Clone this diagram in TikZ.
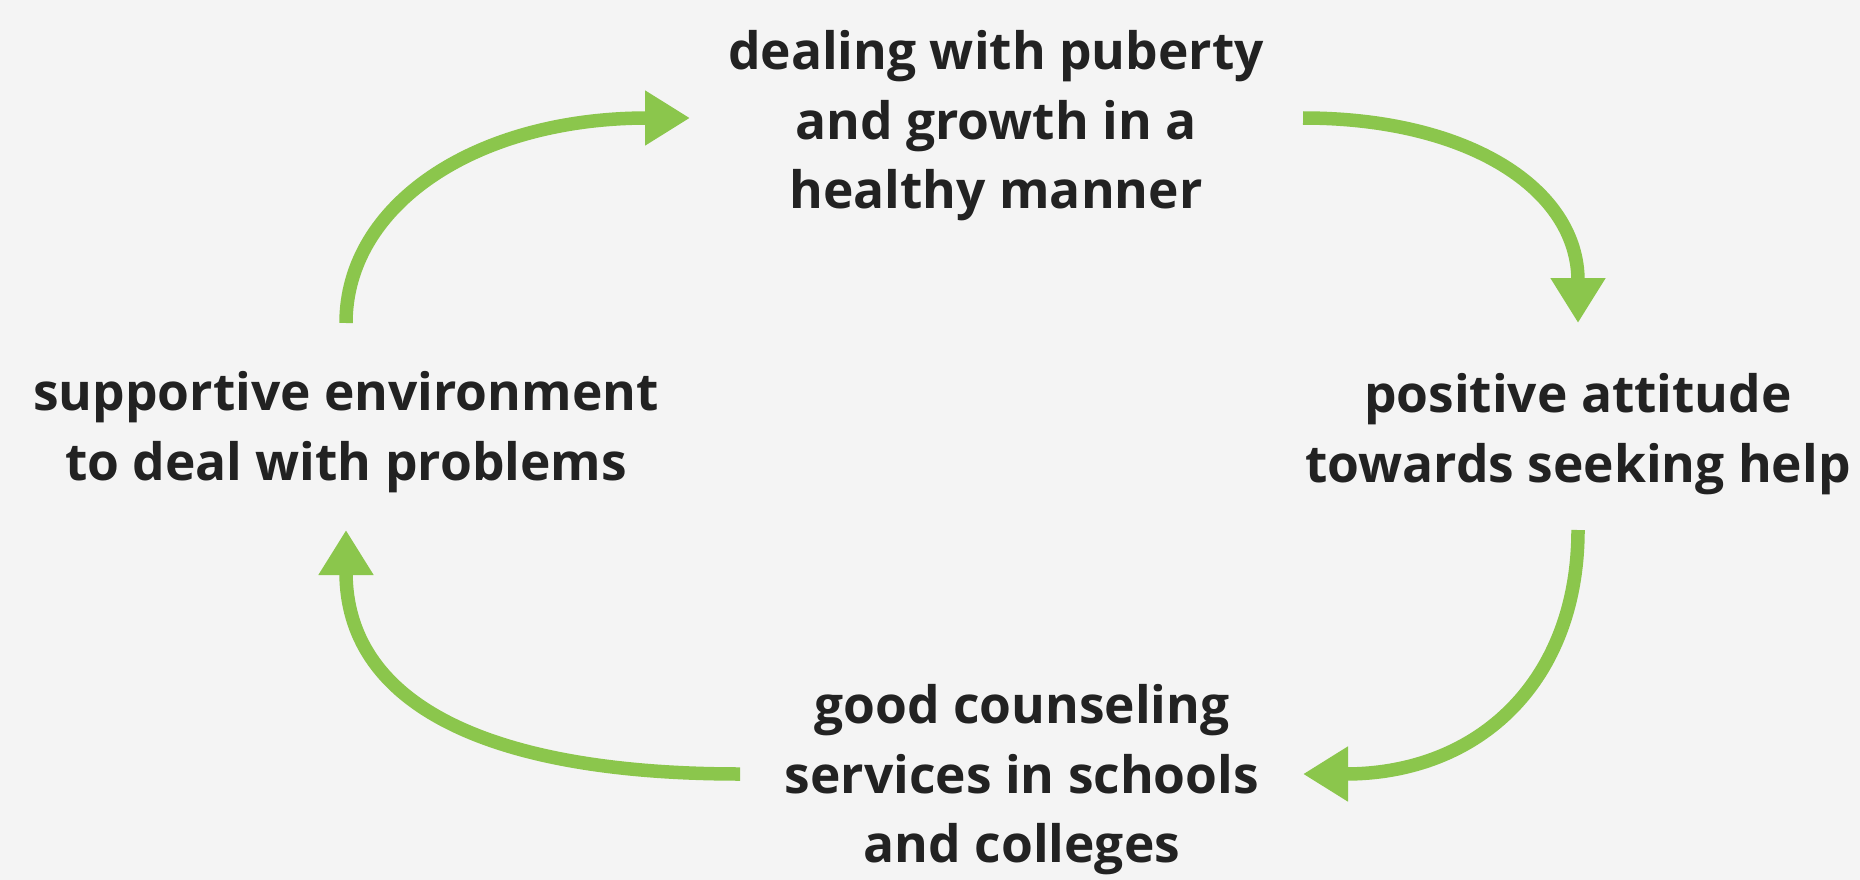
\documentclass[tikz,border=0pt]{standalone}
\usepackage{fontspec}
\setmainfont{Open Sans}
\usetikzlibrary{arrows.meta}
\definecolor{bgc}{HTML}{F4F4F4}
\definecolor{grn}{RGB}{139,198,76}
\definecolor{txt}{HTML}{222222}
\begin{document}
\begin{tikzpicture}[x=1pt,y=-1pt,
  lbl/.style={align=center,text=txt,font=\fontsize{51.5}{69.5}\selectfont\bfseries,inner sep=0pt},
  cyc/.style={draw=grn,line width=13.5pt,-{Triangle[length=45pt,width=52pt]}}]
\fill[bgc] (0,0) rectangle (1860,880);
\useasboundingbox (0,0) rectangle (1860,880);
\node[lbl] (top) at (996,126) {dealing with puberty\\and growth in a\\healthy manner};
\node[lbl] (right) at (1578,434) {positive attitude\\towards seeking help};
\node[lbl] (bottom) at (1022,780) {good counseling\\services in schools\\and colleges};
\node[lbl] (left) at (346,432) {supportive environment\\to deal with problems};
\coordinate (a1) at (1303,118);
\coordinate (a2) at (1578,323);
\coordinate (b1) at (1578,530);
\coordinate (b2) at (1303,774);
\coordinate (c1) at (740,774);
\coordinate (c2) at (346,530);
\coordinate (d1) at (346,323);
\coordinate (d2) at (690,118);
\draw[cyc] (a1) .. controls (1470,118) and (1578,190) .. (a2);
\draw[cyc] (b1) .. controls (1578,680) and (1480,774) .. (b2);
\draw[cyc] (c1) .. controls (480,774) and (346,700) .. (c2);
\draw[cyc] (d1) .. controls (346,205) and (475,118) .. (d2);
\end{tikzpicture}
\end{document}
